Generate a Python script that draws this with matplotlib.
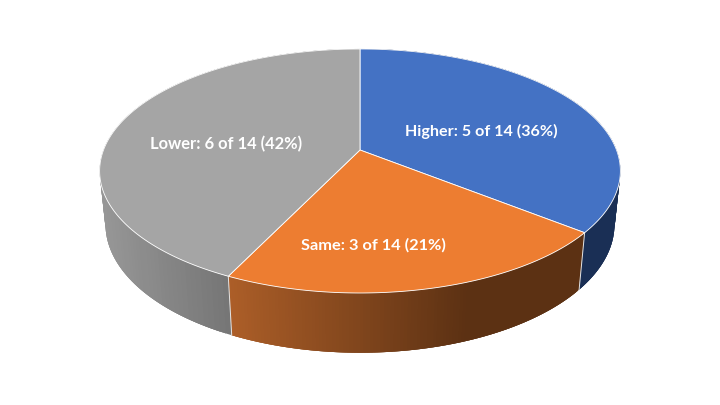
import numpy as np
import matplotlib
matplotlib.use("Agg")
import matplotlib.pyplot as plt
from matplotlib.colors import to_rgb

categories = ["Higher", "Same", "Lower"]
counts = [5, 3, 6]
labels = ["Higher: 5 of 14 (36%)", "Same: 3 of 14 (21%)", "Lower: 6 of 14 (42%)"]
top_colors = ["#4472C4", "#ED7D31", "#A5A5A5"]
side_left = ["#1A2F55", "#AC5E28", "#969696"]
side_right = ["#1A2F55", "#5C3113", "#767676"]
side_x = [(580, 620), (230, 470), (105, 230)]
label_pos = [(481.5, 131.5), (373, 245.5), (226.5, 144)]
label_size = [11.6, 11.8, 11.9]

CX, CY = 360.0, 150.0
A, B, K = 256.5, 118.4, 0.172
M, C = 0.0225, 54.0


def project(t, depth=0.0):
    u, v = np.sin(t), -np.cos(t)
    w = 1 - K * v + M * depth
    return CX + A * u / w, CY + (B * v + C * depth) / w


fig = plt.figure(figsize=(7.2, 4.05), dpi=100, facecolor="white")
ax = fig.add_axes([0, 0, 1, 1])
ax.set_xlim(0, 720)
ax.set_ylim(405, 0)
ax.axis("off")

fractions = np.array(counts) / sum(counts)
edges = np.concatenate([[0], np.cumsum(fractions)]) * 2 * np.pi

# side walls: each strip overlaps the next one, so no background shows between them
for i in range(len(counts)):
    ts = np.linspace(edges[i], edges[i + 1], 121)
    c0, c1 = np.array(to_rgb(side_left[i])), np.array(to_rgb(side_right[i]))
    x0, x1 = side_x[i]
    for j in range(len(ts) - 1):
        seg = ts[j:min(j + 4, len(ts))]
        xt, yt = project(seg)
        xb, yb = project(seg[::-1], 1)
        f = np.clip((project(ts[j])[0] - x0) / (x1 - x0), 0, 1)
        ax.fill(np.r_[xt, xb], np.r_[yt, yb], facecolor=c0 + (c1 - c0) * f,
                edgecolor="none", lw=0, zorder=1)

# seams on the wall
for e in edges[1:-1]:
    x0, y0 = project(e)
    x1, y1 = project(e, 1)
    ax.plot([x0, x1], [y0, y1], color="#E4E4E4", lw=0.7, zorder=2)

# top face
for i in range(len(counts)):
    ts = np.linspace(edges[i], edges[i + 1], 240)
    xs, ys = project(ts)
    ax.fill(np.r_[CX, xs], np.r_[CY, ys], facecolor=top_colors[i],
            edgecolor="white", lw=0.6, joinstyle="round", zorder=3)

for text, (x, y), size in zip(labels, label_pos, label_size):
    ax.text(x, y, text, color="white", ha="center", va="center",
            fontsize=size, fontweight="bold", family="Lato", zorder=4)

fig.savefig("out.png", dpi=100, facecolor="white")
